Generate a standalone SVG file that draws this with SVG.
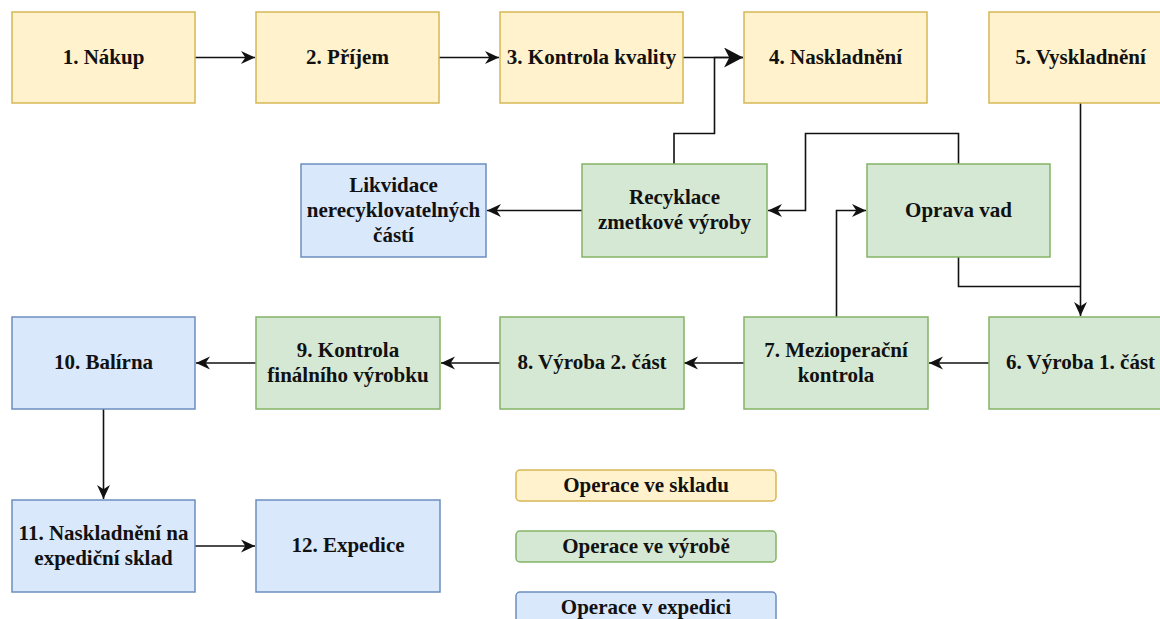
<svg xmlns="http://www.w3.org/2000/svg" width="1160" height="619" viewBox="0 0 1160 619">
<style>
text{font-family:"Liberation Serif","Times New Roman",serif;font-weight:bold;font-size:21px;fill:#111;text-anchor:middle}
.y{fill:#fff2cc;stroke:#d6b656;stroke-width:1.5}
.g{fill:#d5e8d4;stroke:#82b366;stroke-width:1.5}
.b{fill:#dae8fc;stroke:#6c8ebf;stroke-width:1.5}
.c{fill:none;stroke:#111;stroke-width:1.6}
</style>
<defs>
<marker id="a" markerUnits="userSpaceOnUse" markerWidth="14" markerHeight="14" viewBox="0 0 13 12" refX="13" refY="6" orient="auto">
<path d="M0,0 L13,6 L0,12 L4,6 z" fill="#111"/>
</marker>
<marker id="ab" markerUnits="userSpaceOnUse" markerWidth="20" markerHeight="20" viewBox="0 0 18 19" refX="18" refY="9.5" orient="auto">
<path d="M0,0 L18,9.5 L0,19 L5,9.5 z" fill="#111"/>
</marker>
</defs>
<g id="connectors">
<path class="c" d="M195,57.5 H255" marker-end="url(#a)"/>
<path class="c" d="M439,57.5 H499" marker-end="url(#a)"/>
<path class="c" d="M683,57.5 H743" marker-end="url(#ab)"/>
<path class="c" d="M674,164 V133.5 H714.5 V57.5 H743"/>
<path class="c" d="M582,210.5 H487" marker-end="url(#a)"/>
<path class="c" d="M958.5,164 V133.5 H805.5 V210.5 H768" marker-end="url(#a)"/>
<path class="c" d="M836.5,317 V210.5 H866" marker-end="url(#a)"/>
<path class="c" d="M958.5,257 V286.5 H1080.5"/>
<path class="c" d="M1080.5,103 V316" marker-end="url(#a)"/>
<path class="c" d="M989,363 H929" marker-end="url(#a)"/>
<path class="c" d="M744,363 H684" marker-end="url(#a)"/>
<path class="c" d="M500,363 H441" marker-end="url(#a)"/>
<path class="c" d="M256,363 H196" marker-end="url(#a)"/>
<path class="c" d="M103.5,409 V499" marker-end="url(#a)"/>
<path class="c" d="M195,546 H255" marker-end="url(#a)"/>
</g>
<g id="n1"><rect class="y" x="12" y="12" width="183" height="91"/><text x="103.5" y="63.5">1. Nákup</text></g>
<g id="n2"><rect class="y" x="256" y="12" width="183" height="91"/><text x="347.5" y="63.5">2. Příjem</text></g>
<g id="n3"><rect class="y" x="500" y="12" width="183" height="91"/><text x="591.5" y="63.5">3. Kontrola kvality</text></g>
<g id="n4"><rect class="y" x="744" y="12" width="183" height="91"/><text x="835.5" y="63.5">4. Naskladnění</text></g>
<g id="n5"><rect class="y" x="989" y="12" width="183" height="91"/><text x="1080.5" y="63.5">5. Vyskladnění</text></g>
<g id="likvidace"><rect class="b" x="301" y="164" width="185" height="93"/><text x="393.5" y="191.5">Likvidace</text><text x="393.5" y="216.5">nerecyklovatelných</text><text x="393.5" y="241.5">částí</text></g>
<g id="recyklace"><rect class="g" x="582" y="164" width="185" height="93"/><text x="674.5" y="204">Recyklace</text><text x="674.5" y="229">zmetkové výroby</text></g>
<g id="oprava"><rect class="g" x="867" y="164" width="183" height="93"/><text x="958.5" y="216.5">Oprava vad</text></g>
<g id="n6"><rect class="g" x="989" y="317" width="183" height="92"/><text x="1080.5" y="369">6. Výroba 1. část</text></g>
<g id="n7"><rect class="g" x="744" y="317" width="184" height="92"/><text x="836" y="357">7. Mezioperační</text><text x="836" y="382">kontrola</text></g>
<g id="n8"><rect class="g" x="500" y="317" width="184" height="92"/><text x="592" y="369">8. Výroba 2. část</text></g>
<g id="n9"><rect class="g" x="256" y="317" width="184" height="92"/><text x="348" y="357">9. Kontrola</text><text x="348" y="382">finálního výrobku</text></g>
<g id="n10"><rect class="b" x="12" y="317" width="183" height="92"/><text x="103.5" y="369">10. Balírna</text></g>
<g id="n11"><rect class="b" x="12" y="500" width="183" height="92"/><text x="103.5" y="540">11. Naskladnění na</text><text x="103.5" y="565">expediční sklad</text></g>
<g id="n12"><rect class="b" x="256" y="500" width="184" height="92"/><text x="348" y="552">12. Expedice</text></g>
<g id="legend">
<rect class="y" x="516" y="470" width="260" height="31" rx="4"/><text x="646" y="491.5">Operace ve skladu</text>
<rect class="g" x="516" y="531" width="260" height="31" rx="4"/><text x="646" y="552.5">Operace ve výrobě</text>
<rect class="b" x="516" y="592" width="260" height="32" rx="4"/><text x="646" y="614">Operace v expedici</text>
</g>
</svg>
